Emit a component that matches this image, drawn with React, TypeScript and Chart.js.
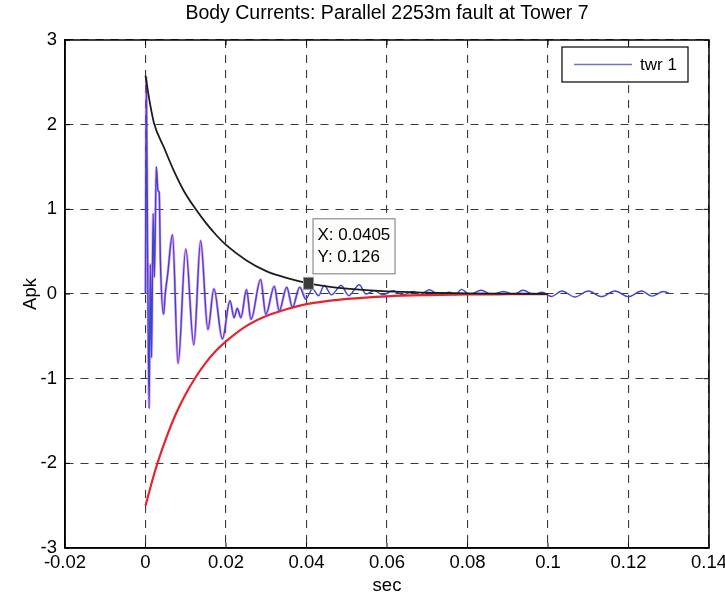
import React, { useEffect, useRef } from "react";
import { Chart, registerables } from "chart.js";

Chart.register(...registerables);

const TITLE = "Body Currents: Parallel 2253m fault at Tower 7";
const X_LABEL = "sec";
const Y_LABEL = "Apk";
const LEGEND_LABEL = "twr 1";

const xTicks = [-0.02, 0, 0.02, 0.04, 0.06, 0.08, 0.1, 0.12, 0.14];
const xTickLabels = ["-0.02", "0", "0.02", "0.04", "0.06", "0.08", "0.1", "0.12", "0.14"];
const yTicks = [-3, -2, -1, 0, 1, 2, 3];
const yTickLabels = ["-3", "-2", "-1", "0", "1", "2", "3"];

// twr 1 body current (sec, Apk)
const twrT = [0, 0.0002, 0.0005, 0.0009, 0.0012, 0.0015, 0.0019, 0.0022, 0.0027, 0.0031, 0.0034, 0.0037, 0.0045, 0.0049, 0.0055, 0.0067, 0.0081, 0.01, 0.012, 0.0137, 0.0155, 0.017, 0.0191, 0.021, 0.022, 0.0228, 0.0237, 0.0251, 0.0262, 0.0286, 0.0299, 0.032, 0.0332, 0.0351, 0.0365, 0.0383, 0.0398, 0.0415, 0.043, 0.0444, 0.0462, 0.0486, 0.0505, 0.0531, 0.0548, 0.0568, 0.059, 0.0615, 0.064, 0.0665, 0.0682, 0.0705, 0.073, 0.0755, 0.077, 0.0785, 0.0805, 0.0834, 0.086, 0.089, 0.0915, 0.0938, 0.0965, 0.0985, 0.1009, 0.1034, 0.1067, 0.11, 0.1133, 0.1166, 0.12, 0.1233, 0.1258, 0.1287, 0.13];
const twrV = [0, 2.55, 0.6, -1.35, 0.35, -0.75, 0.95, 0.2, 1.5, 1.22, 1.2, 0.4, -0.24, 0.0, 0.23, 0.7, -0.82, 0.53, -0.6, 0.63, -0.42, 0.06, -0.53, -0.08, -0.28, -0.17, -0.28, 0.05, -0.3, 0.17, -0.24, 0.09, -0.2, 0.08, -0.16, 0.08, -0.06, 0.06, -0.02, 0.1, -0.01, 0.1, -0.02, 0.11, 0.0, 0.04, -0.01, 0.04, -0.01, 0.03, -0.01, 0.05, -0.01, 0.02, -0.01, 0.055, -0.005, 0.045, -0.005, 0.03, -0.005, 0.045, -0.005, 0.02, -0.03, 0.035, -0.035, 0.035, -0.03, 0.035, -0.03, 0.035, -0.025, 0.03, 0.01];

// upper envelope (black)
const upperT = [0, 0.001, 0.0021, 0.0046, 0.007, 0.0095, 0.0125, 0.015, 0.0175, 0.02, 0.025, 0.03, 0.035, 0.0405, 0.045, 0.05, 0.06, 0.07, 0.08, 0.09, 0.1];
const upperV = [2.58, 2.28, 2.02, 1.73, 1.46, 1.22, 1.0, 0.84, 0.7, 0.58, 0.4, 0.27, 0.19, 0.126, 0.09, 0.063, 0.03, 0.015, 0.007, 0.004, 0.002];

// lower envelope (red)
const lowerT = [0, 0.0025, 0.005, 0.0075, 0.01, 0.0125, 0.015, 0.0175, 0.02, 0.025, 0.03, 0.035, 0.04, 0.045, 0.05, 0.06, 0.07, 0.08, 0.09, 0.1];
const lowerV = [-2.5, -2.07, -1.72, -1.42, -1.18, -0.98, -0.81, -0.67, -0.56, -0.38, -0.26, -0.18, -0.12, -0.085, -0.058, -0.027, -0.013, -0.006, -0.003, -0.001];

const tipX = 0.0405;
const tipY = 0.126;

const FONT = "'Liberation Sans', Arial, Helvetica, sans-serif";
const BLUE = "#3a46d0";

const pts = (t: number[], v: number[]) => t.map((x, i) => ({ x, y: v[i] }));

const framePlugin = {
  id: "frame",
  afterDatasetsDraw(chart: any) {
    const { ctx, chartArea: a, scales } = chart;
    ctx.save();
    ctx.setLineDash([]);
    ctx.strokeStyle = "#000";
    ctx.lineWidth = 1;
    xTicks.forEach((v) => {
      const px = scales.x.getPixelForValue(v);
      ctx.beginPath();
      ctx.moveTo(px, a.bottom);
      ctx.lineTo(px, a.bottom - 5);
      ctx.moveTo(px, a.top);
      ctx.lineTo(px, a.top + 5);
      ctx.stroke();
    });
    yTicks.forEach((v) => {
      const py = scales.y.getPixelForValue(v);
      ctx.beginPath();
      ctx.moveTo(a.left, py);
      ctx.lineTo(a.left + 5, py);
      ctx.moveTo(a.right, py);
      ctx.lineTo(a.right - 5, py);
      ctx.stroke();
    });
    ctx.lineWidth = 1.5;
    ctx.strokeRect(a.left, a.top, a.right - a.left, a.bottom - a.top);
    ctx.restore();
  },
};

const legendPlugin = {
  id: "legendBox",
  afterDraw(chart: any) {
    const { ctx, chartArea: a } = chart;
    const w = 126;
    const h = 35;
    const x0 = a.right - 21 - w;
    const y0 = a.top + 7;
    ctx.save();
    ctx.setLineDash([]);
    ctx.fillStyle = "#fff";
    ctx.fillRect(x0, y0, w, h);
    ctx.strokeStyle = "#000";
    ctx.lineWidth = 1.2;
    ctx.strokeRect(x0, y0, w, h);
    ctx.strokeStyle = "#6f74cf";
    ctx.lineWidth = 1.5;
    ctx.beginPath();
    ctx.moveTo(x0 + 12, y0 + h / 2);
    ctx.lineTo(x0 + 70, y0 + h / 2);
    ctx.stroke();
    ctx.fillStyle = "#000";
    ctx.font = `17px ${FONT}`;
    ctx.textBaseline = "middle";
    ctx.textAlign = "left";
    ctx.fillText(LEGEND_LABEL, x0 + 78, y0 + h / 2 + 1);
    ctx.restore();
  },
};

const tipPlugin = {
  id: "dataTip",
  afterDraw(chart: any) {
    const { ctx, scales } = chart;
    const mx = scales.x.getPixelForValue(tipX);
    const my = scales.y.getPixelForValue(tipY);
    ctx.save();
    ctx.setLineDash([]);
    const bx = mx + 4;
    const bw = 82;
    const bh = 55;
    const by = my - 10 - bh;
    ctx.fillStyle = "#fdfdfb";
    ctx.fillRect(bx, by, bw, bh);
    ctx.strokeStyle = "#777";
    ctx.lineWidth = 1;
    ctx.strokeRect(bx + 0.5, by + 0.5, bw, bh);
    ctx.fillStyle = "#000";
    ctx.font = `17px ${FONT}`;
    ctx.textBaseline = "middle";
    ctx.textAlign = "left";
    ctx.fillText("X: " + String(tipX), bx + 5, by + 17);
    ctx.fillText("Y: " + String(tipY), bx + 5, by + 39);
    ctx.fillStyle = "#3a3a3a";
    ctx.fillRect(mx - 5, my - 6, 10, 12);
    ctx.strokeStyle = "#999";
    ctx.strokeRect(mx - 5, my - 6, 10, 12);
    ctx.restore();
  },
};

export default function App() {
  const ref = useRef<HTMLCanvasElement | null>(null);

  useEffect(() => {
    document.body.style.margin = "0";
    const canvas = ref.current;
    if (!canvas) return;
    const haloT = twrT.filter((t) => t <= 0.04);
    const chart = new Chart(canvas, {
      type: "line",
      data: {
        datasets: [
          {
            label: "upper",
            data: pts(upperT, upperV),
            borderColor: "#1c1c1c",
            borderWidth: 1.8,
            pointRadius: 0,
            cubicInterpolationMode: "monotone",
            order: 1,
          },
          {
            label: "lower",
            data: pts(lowerT, lowerV),
            borderColor: "#e8232e",
            borderWidth: 2.2,
            pointRadius: 0,
            cubicInterpolationMode: "monotone",
            order: 2,
          },
          {
            label: LEGEND_LABEL,
            data: pts(twrT, twrV),
            borderColor: BLUE,
            borderWidth: 1.4,
            pointRadius: 0,
            cubicInterpolationMode: "monotone",
            order: 3,
          },
          {
            label: "halo",
            data: pts(haloT, twrV),
            borderColor: "rgba(215,80,225,0.55)",
            borderWidth: 2.6,
            pointRadius: 0,
            cubicInterpolationMode: "monotone",
            order: 4,
          },
        ],
      } as any,
      options: {
        animation: false,
        responsive: false,
        maintainAspectRatio: false,
        layout: { padding: { left: 0, right: 16, top: 0, bottom: 0 } },
        plugins: {
          legend: { display: false },
          tooltip: { enabled: false },
          title: {
            display: true,
            text: TITLE,
            fullSize: false,
            color: "#000",
            font: { family: FONT, size: 19.5, weight: "normal" },
            padding: { top: 2, bottom: 14.6 },
          },
        },
        scales: {
          x: {
            type: "linear",
            min: -0.02,
            max: 0.14,
            afterBuildTicks: (s: any) => {
              s.ticks = xTicks.map((v) => ({ value: v }));
            },
            afterFit: (s: any) => {
              s.height = 52;
              s.paddingRight = 16;
            },
            ticks: {
              autoSkip: false,
              maxRotation: 0,
              color: "#000",
              padding: 4,
              font: { family: FONT, size: 18.5 },
              callback: (v: any) => {
                const i = xTicks.findIndex((t) => Math.abs(t - Number(v)) < 1e-9);
                return i >= 0 ? xTickLabels[i] : "";
              },
            },
            grid: { color: "#3a3a3a", lineWidth: 1.1, drawTicks: false },
            border: { display: true, color: "#000", width: 1.5, dash: [8, 7] },
            title: {
              display: true,
              text: X_LABEL,
              color: "#000",
              font: { family: FONT, size: 18.5 },
              padding: { top: 0, bottom: 3 },
            },
          },
          y: {
            type: "linear",
            min: -3,
            max: 3,
            afterBuildTicks: (s: any) => {
              s.ticks = yTicks.map((v) => ({ value: v }));
            },
            afterFit: (s: any) => {
              s.width = 65;
            },
            ticks: {
              autoSkip: false,
              color: "#000",
              padding: 8,
              font: { family: FONT, size: 18.5 },
              callback: (v: any) => {
                const i = yTicks.findIndex((t) => Math.abs(t - Number(v)) < 1e-9);
                return i >= 0 ? yTickLabels[i] : "";
              },
            },
            grid: { color: "#3a3a3a", lineWidth: 1.1, drawTicks: false },
            border: { display: true, color: "#000", width: 1.5, dash: [8, 7] },
            title: {
              display: true,
              text: Y_LABEL,
              color: "#000",
              font: { family: FONT, size: 18.5 },
              padding: { top: 20, bottom: 0 },
            },
          },
        },
      } as any,
      plugins: [framePlugin, legendPlugin, tipPlugin],
    });
    return () => chart.destroy();
  }, []);

  return (
    <div style={{ position: "absolute", left: 0, top: 0, width: 725, height: 600, background: "#fff" }}>
      <canvas ref={ref} width={725} height={600} style={{ display: "block", width: 725, height: 600 }} />
    </div>
  );
}
